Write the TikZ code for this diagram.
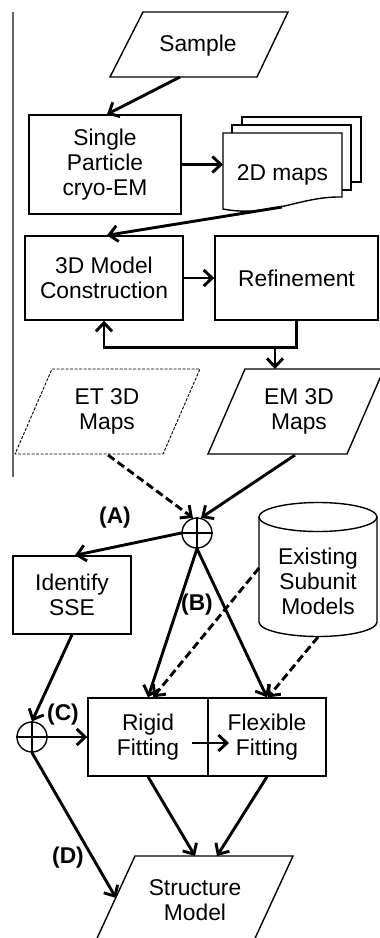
\documentclass[tikz,border=0pt]{standalone}
\usepackage{fontspec}
\setmainfont{Liberation Sans}
\usetikzlibrary{arrows.meta}
\begin{document}
\begin{tikzpicture}[x=1pt,y=-1pt,
  txt/.style={font=\fontsize{22.8}{25}\selectfont, align=center, inner sep=0pt},
  lab/.style={font=\bfseries\fontsize{22.8}{25}\selectfont, inner sep=0pt},
  box/.style={draw, line width=1.4pt, txt},
  outl/.style={line width=1.4pt},
  dashoutl/.style={line width=0.9pt, dash pattern=on 3pt off 1.5pt},
  arr/.style={line width=2.9pt, -{Straight Barb[length=8.5pt,width=16pt]}},
  darr/.style={arr, dash pattern=on 8pt off 4pt},
  oplus/.style={circle, draw, line width=1.4pt, minimum size=30pt, inner sep=0pt}
]
\useasboundingbox (0,0) rectangle (380,938);
\clip (0,0) rectangle (380,938);
\fill[white] (0,0) rectangle (380,938);
\draw[line width=2pt, black!60] (13,12) -- (13,477);

% Sample
\draw[outl] (143,12) -- (288,12) -- (257,77) -- (110,77) -- cycle;
\node[txt] (sample) at (198,46) {Sample};
\coordinate (sampleb) at (180,77);

\node[box, minimum width=152pt, minimum height=99pt] (sp) at (105,164.5) {Single\\Particle\\cryo-EM};

% 2D maps
\draw[outl, fill=white] (242,117) rectangle (361,182);
\draw[outl, fill=white] (232,125) rectangle (351,190);
\draw[outl, fill=white] (223,209) -- (223,133) -- (342,133) -- (342,197) .. controls (300,196) and (270,218) .. (223,209) -- cycle;
\node[txt] (maps) at (282.5,175) {2D maps};
\coordinate (mapsw) at (223,164.5);
\coordinate (mapsb) at (282,207);

\node[box, minimum width=158pt, minimum height=84pt] (model) at (104,278) {3D Model\\Construction};
\node[box, minimum width=163pt, minimum height=84pt] (refine) at (296.5,278) {Refinement};

% ET
\draw[dashoutl] (52,369) -- (200,369) -- (163,454) -- (15,454) -- cycle;
\node[txt] (et) at (107,411) {ET 3D\\Maps};
\coordinate (etb) at (108,455);
% EM
\draw[outl] (245,369) -- (384,369) -- (347,454) -- (208,454) -- cycle;
\node[txt] (em) at (299,411) {EM 3D\\Maps};
\coordinate (emt) at (275,369);
\coordinate (emb) at (295,455);

\node[oplus] (c1) at (197,533) {};
\draw[outl] (c1.north) -- (c1.south) (c1.west) -- (c1.east);
\node[lab] (la) at (115,518) {(A)};

\node[box, minimum width=118pt, minimum height=78pt] (ident) at (72,595) {Identify\\SSE};

% cylinder
\draw[outl, fill=white] (259,517) -- (259,622) arc[start angle=180, end angle=360, x radius=59pt, y radius=14.5pt] -- (377,517);
\draw[outl] (318,517) ellipse [x radius=59pt, y radius=14.5pt];
\node[txt] (db) at (318,581) {Existing\\Subunit\\Models};
\coordinate (dbl) at (259,568);
\coordinate (dbb) at (318,637);

\node[box, minimum width=120pt, minimum height=78pt] (rigid) at (148,737) {Rigid\\Fitting};
\node[box, minimum width=118pt, minimum height=78pt] (flex) at (267,737) {Flexible\\Fitting};

\node[oplus] (c2) at (32,737) {};
\draw[outl] (c2.north) -- (c2.south) (c2.west) -- (c2.east);

\node[lab] (lb) at (197,605) {(B)};
\node[lab] (lc) at (63,715) {(C)};
\node[lab] (ld) at (68,858) {(D)};

% Structure
\draw[outl] (135,856) -- (293,856) -- (245,960) -- (87,960) -- cycle;
\node[txt] (sm) at (195,900) {Structure\\Model};
\coordinate (sml) at (116,898);
\coordinate (smt1) at (195,856);
\coordinate (smt2) at (217,856);

% connectors
\draw[arr] (sampleb) -- ([xshift=2pt]sp.north);
\draw[arr] (sp.east) -- (mapsw);
\draw[arr] (mapsb) -- ([xshift=3pt]model.north);
\draw[arr] (model.east) -- (refine.west);
\draw[arr] (refine.south) -- ++(0,27) -| (model.south);
\coordinate (j) at (275,347);
\draw[arr] (j) -- (emt);
\draw[darr] (etb) -- (c1.105);
\draw[arr] (emb) -- (c1.75);
\draw[arr] (c1.west) -- ([xshift=3pt]ident.north);
\draw[arr] (c1.south) -- (rigid.north);
\draw[arr] (c1.south) -- (flex.north);
\draw[darr] (dbl) -- ([xshift=5pt]rigid.north);
\draw[darr] (dbb) -- ([xshift=1pt]flex.north);
\draw[arr] ([xshift=44pt,yshift=-6pt]rigid.center) -- ([xshift=-38pt,yshift=-6pt]flex.center);
\draw[arr] (ident.south) -- (c2.north);
\draw[arr] (c2.east) -- (rigid.west);
\draw[arr] (c2.south) -- (sml);
\draw[arr] (rigid.south) -- (smt1);
\draw[arr] (flex.south) -- (smt2);
\end{tikzpicture}
\end{document}
